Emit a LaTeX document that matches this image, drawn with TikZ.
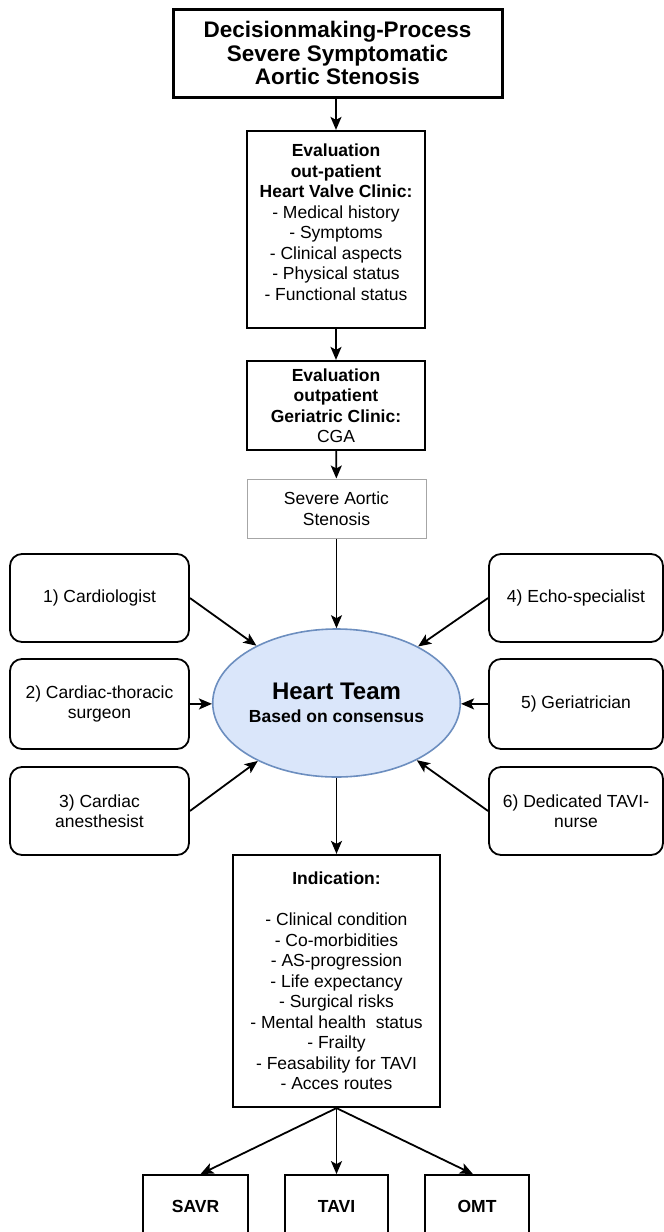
\documentclass[tikz,border=0pt]{standalone}
\usepackage{fontspec}
\setmainfont{Liberation Sans}
\usetikzlibrary{arrows.meta,shapes.geometric}
\definecolor{htfill}{RGB}{218,230,250}
\definecolor{htdraw}{RGB}{108,142,191}
\begin{document}
\begin{tikzpicture}[x=1pt,y=-1pt,
 txt/.style={font=\fontsize{17.5}{20.5}\selectfont, align=center, inner sep=0pt},
 sqbox/.style={draw, line width=2.2pt, txt},
 rbox/.style={draw, line width=1.8pt, rounded corners=12pt, txt, minimum width=179, minimum height=88},
 endbox/.style={draw, line width=1.8pt, minimum height=62, inner sep=0pt, font=\fontsize{17.5}{20.5}\selectfont\bfseries},
 arr/.style={line width=1.8pt, -{Stealth[length=13pt,width=11pt,inset=3pt]}},
]
\useasboundingbox (0,0) rectangle (664,1232);
\clip (0,0) rectangle (664,1232);

\node[draw, line width=3pt, minimum width=329, minimum height=88, inner sep=0pt,
      font=\fontsize{22.5}{23.5}\selectfont\bfseries, align=center] (title) at (337.5,53)
  {Decisionmaking-Process\\Severe Symptomatic\\Aortic Stenosis};

\node[sqbox, minimum width=178, minimum height=197] (eval1) at (336,229.5) {};
\node[txt] (eval1t) at (336,222) {\textbf{Evaluation}\\\textbf{out-patient}\\\textbf{Heart Valve Clinic:}\\- Medical history\\- Symptoms\\- Clinical aspects\\- Physical status\\- Functional status};

\node[sqbox, minimum width=178, minimum height=89] (eval2) at (336,405.5)
  {\textbf{Evaluation}\\\textbf{outpatient}\\\textbf{Geriatric Clinic:}\\CGA};

\node[draw=gray!70, line width=1pt, txt, minimum width=179, minimum height=59] (sas) at (336.5,508.5)
  {Severe Aortic\\Stenosis};

\node[ellipse, draw=htdraw, fill=htfill, line width=1.6pt, minimum width=209, minimum height=148,
      inner sep=0pt, txt] (ht) at (336.5,703)
  {{\fontsize{24}{27}\selectfont\bfseries Heart Team}\\[2pt]{\bfseries Based on consensus}};

\node[rbox] (c1) at (99.5,598) {1) Cardiologist};
\node[rbox, minimum height=90] (c2) at (99.5,704) {2) Cardiac-thoracic\\surgeon};
\node[rbox] (c3) at (99.5,811) {3) Cardiac\\anesthesist};
\node[rbox, minimum width=174] (c4) at (576,598) {4) Echo-specialist};
\node[rbox, minimum width=174, minimum height=90] (c5) at (576,704) {5) Geriatrician};
\node[rbox, minimum width=174] (c6) at (576,811) {6) Dedicated TAVI-\\nurse};

\node[sqbox, minimum width=207, minimum height=252] (ind) at (336.5,981)
  {\textbf{Indication:}\\[20.5pt]- Clinical condition\\- Co-morbidities\\- AS-progression\\- Life expectancy\\- Surgical risks\\- Mental health~ status\\- Frailty\\- Feasability for TAVI\\- Acces routes};

\node[endbox, minimum width=105] (savr) at (195.5,1206) {SAVR};
\node[endbox, minimum width=103] (tavi) at (336.5,1206) {TAVI};
\node[endbox, minimum width=104] (omt) at (477,1206) {OMT};

\draw[arr] (eval1.north |- title.south) -- (eval1.north);
\draw[arr] (eval1) -- (eval2);
\draw[arr] (eval2) -- (sas);
\draw[arr] (sas) -- (ht);
\draw[arr] (c1.east) -- (ht);
\draw[arr] (c2.east) -- (ht);
\draw[arr] (c3.east) -- (ht);
\draw[arr] (c4.west) -- (ht);
\draw[arr] (c5.west) -- (ht);
\draw[arr] (c6.west) -- (ht);
\draw[arr] (ht) -- (ind);
\draw[arr] (ind.south) -- ([xshift=5pt]savr.north);
\draw[arr] (ind.south) -- (tavi.north);
\draw[arr] (ind.south) -- ([xshift=-4pt]omt.north);
\end{tikzpicture}
\end{document}
